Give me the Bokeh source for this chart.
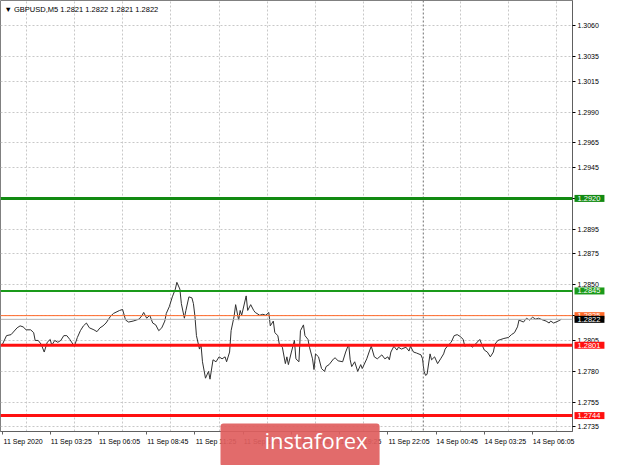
from bokeh.plotting import figure
from bokeh.models import Span, Label, FixedTicker, PrintfTickFormatter, Range1d
from bokeh.embed import file_html
from bokeh.resources import INLINE

# ---- data (M5 bar index, price) ----
bars = [0, 3, 6, 10, 12, 14, 16, 19, 21, 22, 24, 26, 28, 30, 32, 33, 35, 37, 39, 41,
        43, 45, 48, 50, 52, 54, 56, 58, 61, 63, 65, 67, 69, 72, 74, 78, 80, 82, 84, 87,
        89, 91, 93, 94, 96, 98, 100, 102, 104, 106, 108, 109, 111, 113, 115, 116, 118, 119, 121, 122,
        124, 126, 127, 128, 129, 131, 132, 133, 135, 137, 138, 140, 142, 144, 146, 148, 149, 151, 152, 154,
        155, 157, 158, 159, 162, 163, 165, 167, 168, 171, 173, 175, 177, 178, 180, 181, 183, 184, 186, 188,
        189, 190, 192, 194, 195, 197, 198, 200, 201, 203, 204, 206, 207, 208, 210, 212, 214, 215, 217, 220,
        221, 223, 226, 228, 230, 231, 232, 234, 236, 238, 239, 242, 244, 245, 247, 249, 252, 254, 256, 257,
        258, 260, 262, 263, 265, 268, 270, 271, 273, 275, 278, 279, 280, 281, 282, 284, 285, 287, 289, 291,
        293, 294, 296, 298, 300, 302, 304, 306, 307, 310, 312, 314, 317, 318, 320, 322, 324, 326, 327, 329,
        331, 333, 336, 338, 340, 342, 343, 346, 348, 350, 352, 354, 356, 359, 361, 363, 364, 366, 369, 371]
prices = [1.28010, 1.28088, 1.28096, 1.28151, 1.28167, 1.28159, 1.28135, 1.28135, 1.28112, 1.28049,
          1.28049, 1.28018, 1.27955, 1.28034, 1.28057, 1.28010, 1.28049, 1.28034, 1.28049, 1.28088,
          1.28088, 1.28057, 1.28002, 1.28073, 1.28128, 1.28167, 1.28190, 1.28151, 1.28135, 1.28120,
          1.28151, 1.28167, 1.28190, 1.28245, 1.28268, 1.28292, 1.28300, 1.28214, 1.28198, 1.28206,
          1.28214, 1.28222, 1.28253, 1.28276, 1.28229, 1.28253, 1.28190, 1.28175, 1.28128, 1.28151,
          1.28206, 1.28268, 1.28323, 1.28402, 1.28465, 1.28520, 1.28465, 1.28347, 1.28229, 1.28292,
          1.28402, 1.28394, 1.28347, 1.28245, 1.28088, 1.27979, 1.28018, 1.27876, 1.27743, 1.27798,
          1.27735, 1.27892, 1.27876, 1.27916, 1.27900, 1.27916, 1.27876, 1.27955, 1.28128, 1.28245,
          1.28339, 1.28214, 1.28292, 1.28253, 1.28410, 1.28292, 1.28339, 1.28292, 1.28276, 1.28253,
          1.28261, 1.28253, 1.28276, 1.28167, 1.28206, 1.28112, 1.28088, 1.28018, 1.27994, 1.27861,
          1.27916, 1.27853, 1.27955, 1.28049, 1.27900, 1.27876, 1.28128, 1.28175, 1.28088, 1.28057,
          1.27994, 1.27900, 1.27813, 1.27940, 1.27916, 1.27821, 1.27798, 1.27837, 1.27853, 1.27900,
          1.27908, 1.27884, 1.27876, 1.27955, 1.28018, 1.27892, 1.27837, 1.27876, 1.27798, 1.27853,
          1.27821, 1.27900, 1.27971, 1.28002, 1.27916, 1.27900, 1.27932, 1.27900, 1.27916, 1.27892,
          1.27955, 1.28002, 1.27971, 1.27994, 1.27979, 1.27994, 1.27963, 1.28002, 1.27955, 1.27947,
          1.27932, 1.27900, 1.27798, 1.27766, 1.27774, 1.27940, 1.27892, 1.27916, 1.27861, 1.27900,
          1.27940, 1.27979, 1.28010, 1.28034, 1.28088, 1.28096, 1.28081, 1.28057, 1.28002, 1.28018,
          1.27994, 1.28018, 1.28057, 1.28026, 1.27971, 1.27955, 1.27916, 1.27955, 1.28018, 1.28049,
          1.28057, 1.28065, 1.28073, 1.28096, 1.28112, 1.28159, 1.28214, 1.28198, 1.28229, 1.28214,
          1.28237, 1.28222, 1.28229, 1.28214, 1.28206, 1.28190, 1.28206, 1.28190, 1.28206, 1.28220]

price_ticks = [1.3060, 1.3035, 1.3015, 1.2990, 1.2965, 1.2945, 1.2920, 1.2895, 1.2875,
               1.2850, 1.2825, 1.2805, 1.2780, 1.2755, 1.2735]
time_ticks = [0, 32, 64, 96, 128, 160, 192, 224, 256, 288, 320, 352]
time_labels = ["11 Sep 2020", "11 Sep 03:25", "11 Sep 06:05", "11 Sep 08:45", "11 Sep 11:25",
               "11 Sep 14:05", "11 Sep 16:45", "11 Sep 19:25", "11 Sep 22:05", "14 Sep 00:45",
               "14 Sep 03:25", "14 Sep 06:05"]
grid_bars = [16, 48, 80, 112, 144, 176, 208, 240, 272, 304, 336, 368]
day_separator = 279.5

resistance_levels = [1.2920, 1.2845]
support_levels = [1.2801, 1.2744]
bid_price = 1.2822
ask_price = 1.2825

FONT = "Liberation Sans"
FW, FH = 572, 431
LABEL_SHIFT = 14  # labels are written to the right of their tick mark

p = figure(frame_width=FW, frame_height=FH, output_backend="svg", toolbar_location=None,
           x_range=Range1d(-1, 378.5), y_range=Range1d(1.27311, 1.30804),
           y_axis_location="right", min_border_left=0, min_border_top=0,
           min_border_right=32, min_border_bottom=18,
           background_fill_color="white", border_fill_color="white")
p.outline_line_color = "#808080"
p.outline_line_width = 1

# price axis
p.yaxis.ticker = FixedTicker(ticks=price_ticks)
p.yaxis.formatter = PrintfTickFormatter(format="%.4f")
p.yaxis.major_label_text_font = FONT
p.yaxis.major_label_text_font_size = "7px"
p.yaxis.major_label_text_color = "#000000"
p.yaxis.major_tick_out = 3
p.yaxis.major_tick_in = 0
p.yaxis.minor_tick_line_color = None
p.yaxis.axis_line_color = "#606060"
p.yaxis.major_label_standoff = 2

# time axis: tick marks at the bar, label text to the right of it
label_pos = [t + LABEL_SHIFT for t in time_ticks]
p.xaxis.ticker = FixedTicker(ticks=label_pos, minor_ticks=time_ticks)
p.xaxis.major_label_overrides = {lp: lab for lp, lab in zip(label_pos, time_labels)}
p.xaxis.major_label_text_font = FONT
p.xaxis.major_label_text_font_size = "7px"
p.xaxis.major_label_text_color = "#000000"
p.xaxis.major_tick_line_color = None
p.xaxis.major_tick_out = 0
p.xaxis.major_tick_in = 0
p.xaxis.minor_tick_line_color = "#606060"
p.xaxis.minor_tick_out = 3
p.xaxis.minor_tick_in = 0
p.xaxis.axis_line_color = "#606060"
p.xaxis.major_label_standoff = 3

# grid
p.xgrid.ticker = FixedTicker(ticks=grid_bars)
p.xgrid.grid_line_color = "#c8c8c8"
p.xgrid.grid_line_dash = "2 2"
p.ygrid.grid_line_color = "#c8c8c8"
p.ygrid.grid_line_dash = "2 2"

# day separator
p.add_layout(Span(location=day_separator, dimension="height", line_color="#707070",
                  line_dash="2 2", line_width=1))

# level lines
p.add_layout(Span(location=resistance_levels[0], dimension="width", line_color="#128a12", line_width=3))
p.add_layout(Span(location=resistance_levels[1], dimension="width", line_color="#1a9a1a", line_width=2))
p.add_layout(Span(location=ask_price, dimension="width", line_color="#ff6a2a", line_width=1))
p.add_layout(Span(location=bid_price, dimension="width", line_color="#b4b4b4", line_width=1))
p.add_layout(Span(location=support_levels[0], dimension="width", line_color="#ff1010", line_width=3))
p.add_layout(Span(location=support_levels[1], dimension="width", line_color="#ff1010", line_width=3))

# price line
p.line(bars, prices, line_color="#303030", line_width=1)

# price boxes on the right scale (side panel, so not clipped to the frame)
boxes = [(ask_price, "1.2825", "#ff6a2a"),
         (bid_price, "1.2822", "#000000"),
         (resistance_levels[0], "1.2920", "#128a12"),
         (resistance_levels[1], "1.2845", "#1a9a1a"),
         (support_levels[0], "1.2801", "#ff1010"),
         (support_levels[1], "1.2744", "#ff1010")]
for yv, txt, col in boxes:
    p.add_layout(Label(x=FW + 2, y=yv, x_units="canvas", text=txt, text_align="left",
                       text_baseline="middle", text_font=FONT, text_font_size="7.5px",
                       text_color="white", background_fill_color=col,
                       padding=dict(left=3, right=4, top=1, bottom=1)), "right")

# title
p.add_layout(Label(x=4, y=FH - 4, x_units="screen", y_units="screen",
                   text="\u25BC  GBPUSD,M5  1.2821 1.2822 1.2821 1.2822", text_align="left",
                   text_baseline="top", text_font=FONT, text_font_size="7.5px",
                   text_color="#000000"))

# watermark logo
p.add_layout(Label(x=220, y=423, x_units="canvas", y_units="canvas",
                   text="instaforex", text_align="left", text_baseline="top",
                   text_font="Open Sans", text_font_size="22px", text_color="white",
                   background_fill_color="#e05e5e", background_fill_alpha=0.92,
                   border_radius=3, padding=dict(left=44, right=12, top=1, bottom=12)), "below")

open("out.html", "w").write(file_html(p, INLINE))
